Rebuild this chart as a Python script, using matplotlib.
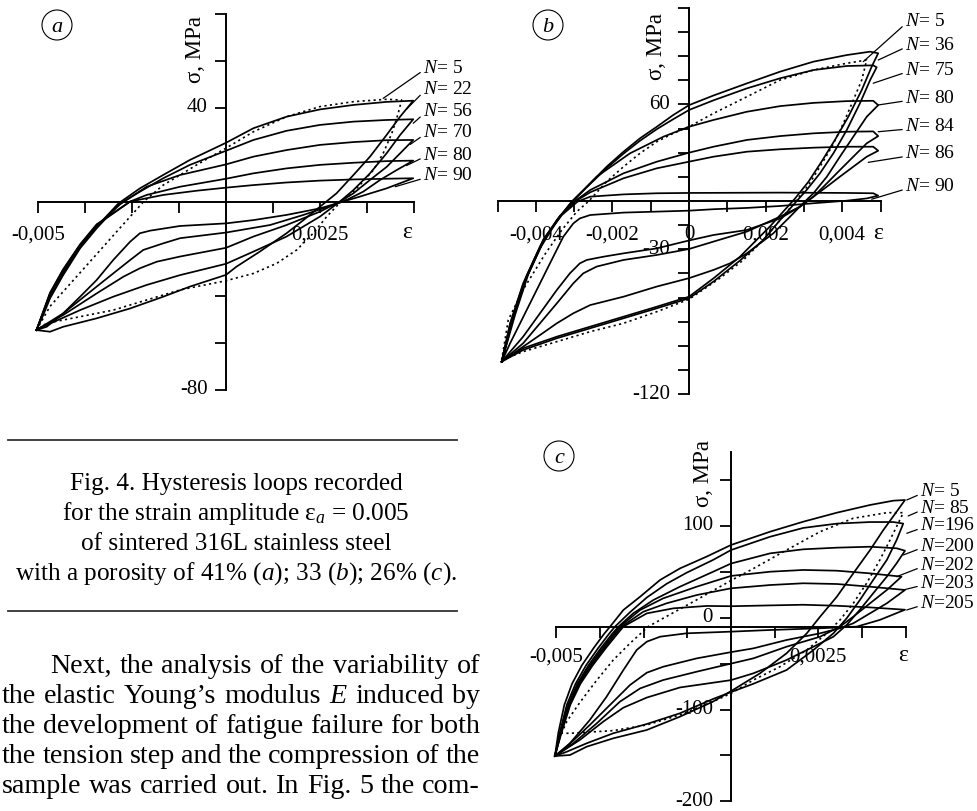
import numpy as np
import matplotlib
matplotlib.use("Agg")
import matplotlib.pyplot as plt
from matplotlib.patches import Ellipse
from matplotlib.lines import Line2D

plt.rcParams["font.family"] = ["Liberation Serif", "DejaVu Serif"]
plt.rcParams["mathtext.fontset"] = "custom"
plt.rcParams["mathtext.rm"] = "Liberation Serif"
plt.rcParams["mathtext.it"] = "Liberation Serif:italic"

# strain given in units of 1e-3, stress in MPa

# ---- (a) porosity 41 % ----
A_N = ["5", "22", "56", "70", "80", "90"]
A5_UP = [(-5.04, -54.5), (-4.68, -44.4), (-4.20, -35.8), (-3.44, -22.2), (-2.80, -10.7), (-2.20, 0.0),
         (-1.67, 7.2), (-1.22, 11.5), (-0.78, 15.8), (0.00, 22.9), (0.73, 29.9), (1.61, 36.3),
         (2.50, 40.6), (3.39, 42.7), (4.27, 43.7), (4.67, 43.4)]
A5_DN = [(4.67, 43.4), (4.58, 37.7), (4.41, 29.2), (4.18, 20.7), (3.92, 13.6), (3.56, 7.2), (3.30, 3.0),
         (3.03, -0.3), (2.68, -6.2), (2.32, -13.3), (1.88, -20.4), (1.35, -26.1), (0.73, -30.4),
         (0.00, -33.5), (-1.22, -37.4), (-2.11, -41.7), (-3.00, -46.0), (-3.88, -48.8), (-4.77, -51.6),
         (-5.04, -54.5)]
A22_UP = [(-5.04, -54.5), (-4.86, -47.4), (-4.68, -40.3), (-4.33, -30.4), (-3.88, -19.0), (-3.44, -10.5),
          (-2.86, -0.6), (-2.29, 5.8), (-1.67, 11.5), (-0.96, 17.9), (0.00, 25.2), (0.73, 31.4),
          (1.61, 36.3), (2.50, 39.4), (3.39, 41.3), (4.27, 42.6), (4.98, 43.1)]
A22_DN = [(4.98, 43.1), (4.63, 36.3), (4.27, 28.5), (3.83, 19.3), (3.39, 11.5), (2.94, 3.7), (2.50, -2.0),
          (2.06, -7.7), (1.61, -13.3), (0.90, -21.1), (0.28, -27.5), (0.00, -31.0), (-0.96, -36.0),
          (-1.67, -40.3), (-2.55, -45.3), (-3.44, -49.5), (-4.33, -53.1), (-4.68, -55.2), (-5.04, -54.5)]
A56_UP = [(-5.04, -54.5), (-4.86, -48.1), (-4.68, -41.0), (-4.33, -31.1), (-3.88, -19.7), (-3.44, -11.2),
          (-2.84, -0.9), (-2.29, 4.4), (-1.67, 10.1), (-0.96, 15.8), (0.00, 21.8), (0.73, 26.4),
          (1.61, 30.3), (2.50, 32.8), (3.39, 34.2), (4.27, 34.9), (4.98, 35.2)]
A56_DN = [(4.98, 35.2), (4.63, 28.5), (4.27, 20.7), (3.83, 12.2), (3.39, 5.1), (3.03, 0.2), (2.50, -6.2),
          (1.61, -14.7), (0.73, -21.1), (0.00, -26.3), (-1.22, -31.1), (-2.11, -35.3), (-3.00, -40.3),
          (-3.88, -46.0), (-4.77, -52.4), (-5.04, -54.5)]
A70_UP = [(-5.04, -54.5), (-4.68, -39.6), (-4.33, -29.6), (-3.88, -18.7), (-3.44, -10.2), (-2.81, -0.9),
          (-2.11, 6.5), (-1.22, 11.5), (0.00, 16.0), (0.73, 19.3), (1.61, 22.1), (2.50, 24.3),
          (3.39, 25.5), (4.27, 26.3), (4.98, 26.4)]
A70_DN = [(4.98, 26.4), (4.63, 20.7), (4.27, 14.9), (3.83, 9.4), (3.39, 3.7), (3.03, 0.2), (2.50, -4.1),
          (1.61, -9.8), (0.73, -14.7), (0.00, -19.5), (-1.22, -23.2), (-1.84, -25.4), (-2.29, -28.2),
          (-2.73, -31.8), (-3.44, -38.9), (-4.33, -48.1), (-5.04, -54.5)]
A80_UP = [(-5.04, -54.5), (-4.68, -38.9), (-4.33, -28.9), (-3.88, -18.3), (-3.44, -9.8), (-2.55, 0.2),
          (-2.11, 3.0), (-1.22, 6.5), (0.00, 9.9), (0.73, 12.2), (1.61, 14.3), (2.50, 15.8),
          (3.39, 16.7), (4.27, 17.4), (4.98, 17.6)]
A80_DN = [(4.98, 17.6), (4.54, 13.6), (4.10, 9.4), (3.65, 4.4), (3.21, 0.9), (2.85, -1.3), (2.06, -5.5),
          (1.17, -9.8), (0.00, -13.0), (-1.22, -15.4), (-1.67, -17.6), (-2.20, -20.4), (-2.55, -24.7),
          (-3.00, -30.4), (-3.44, -36.0), (-4.33, -47.4), (-5.04, -54.5)]
A90_UP = [(-5.04, -54.5), (-4.68, -38.6), (-4.33, -28.6), (-3.88, -18.0), (-3.44, -9.5), (-2.55, 0.2),
          (-1.67, 3.0), (-0.78, 4.8), (0.00, 6.1), (0.73, 7.2), (1.61, 8.3), (2.50, 9.1),
          (3.39, 9.6), (4.27, 9.9), (4.98, 10.1)]
A90_DN = [(4.98, 10.1), (4.27, 5.8), (3.56, 2.3), (3.12, 0.2), (2.50, -2.7), (1.61, -5.5), (0.73, -7.7),
          (0.00, -9.1), (-1.22, -10.2), (-2.02, -12.2), (-2.29, -13.3), (-2.55, -16.9), (-3.00, -24.7),
          (-3.44, -33.2), (-3.88, -40.3), (-4.33, -47.4), (-4.77, -53.1), (-5.04, -54.5)]
A_LABEL_Y = [57.0, 47.7, 38.3, 29.4, 20.0, 11.1]
A_LEAD_END = [(4.18, 44.1), (4.80, 39.5), (4.98, 33.5), (4.90, 24.5), (4.80, 15.5), (4.50, 6.5)]

# ---- (b) porosity 33 % ----
B_N = ["5", "36", "75", "80", "84", "86", "90"]
B5_UP = [(-4.89, -98.7), (-4.72, -73.9), (-4.33, -55.0), (-3.76, -33.0), (-3.32, -18.0), (-2.93, -6.6),
         (-2.63, -0.4), (-2.15, 12.0), (-1.71, 21.3), (-1.28, 29.6), (-0.84, 36.8), (-0.41, 42.0),
         (0.00, 46.1), (0.64, 54.4), (1.51, 64.7), (2.38, 75.1), (3.25, 81.3), (4.12, 85.5), (4.64, 87.5)]
B5_DN = [(4.64, 87.5), (4.51, 75.1), (4.29, 62.6), (4.03, 48.2), (3.73, 33.7), (3.42, 21.3), (3.12, 9.9),
         (2.81, 0.6), (2.38, -11.8), (1.94, -24.2), (1.42, -36.6), (0.81, -47.9), (0.29, -56.3),
         (0.00, -61.0), (-0.84, -68.7), (-1.71, -75.9), (-2.58, -81.1), (-3.45, -87.3), (-4.33, -93.5),
         (-4.89, -98.7)]
B36_UP = [(-4.89, -99.7), (-4.67, -75.9), (-4.33, -51.1), (-3.89, -28.3), (-3.45, -11.8), (-3.06, -0.4),
          (-2.58, 11.0), (-2.15, 21.3), (-1.71, 30.6), (-1.28, 38.9), (-0.84, 46.1), (-0.41, 53.4),
          (0.00, 59.5), (0.64, 65.5), (1.51, 73.0), (2.38, 80.3), (3.25, 86.5), (4.12, 90.6),
          (4.73, 92.7), (4.94, 91.7)]
B36_DN = [(4.94, 91.7), (4.77, 83.4), (4.51, 68.9), (4.16, 52.3), (3.81, 37.9), (3.46, 24.4), (3.12, 12.0),
          (2.77, 1.6), (2.46, -6.6), (2.11, -15.9), (1.33, -34.6), (0.64, -48.0), (0.00, -59.4),
          (-0.84, -65.6), (-1.71, -71.8), (-2.58, -78.0), (-3.45, -84.2), (-4.33, -91.4), (-4.89, -99.7)]
B75_UP = [(-4.89, -99.7), (-4.67, -76.3), (-4.33, -52.1), (-3.89, -29.4), (-3.45, -12.4), (-3.06, -0.4),
          (-2.58, 10.6), (-2.15, 20.4), (-1.71, 29.4), (-1.28, 37.4), (-0.84, 44.6), (-0.41, 50.8),
          (0.00, 56.5), (0.64, 62.5), (1.51, 69.9), (2.38, 76.2), (3.25, 81.3), (4.12, 83.8),
          (4.81, 84.2), (4.90, 83.0)]
B75_DN = [(4.90, 83.0), (4.73, 75.1), (4.46, 60.5), (4.12, 44.1), (3.77, 29.6), (3.42, 17.2), (3.07, 6.8),
          (2.72, -2.5), (2.38, -11.8), (1.94, -24.2), (1.33, -37.0), (0.64, -50.0), (0.00, -60.4),
          (-0.84, -66.6), (-1.71, -72.8), (-2.58, -79.0), (-3.45, -85.2), (-4.33, -92.5), (-4.89, -99.7)]
B80_UP = [(-4.89, -99.7), (-4.59, -71.8), (-4.24, -46.9), (-3.80, -24.2), (-3.37, -9.7), (-3.04, -0.4),
          (-2.41, 15.1), (-1.54, 29.6), (-0.67, 39.9), (0.00, 46.1), (0.64, 50.3), (1.51, 55.4),
          (2.38, 58.9), (3.25, 60.9), (4.12, 62.0), (4.81, 62.2), (4.94, 59.5)]
B80_DN = [(4.94, 59.5), (4.64, 52.3), (4.29, 39.9), (3.94, 27.5), (3.60, 15.1), (3.25, 4.8), (2.98, -1.4),
          (2.64, -9.7), (2.20, -20.1), (1.51, -32.5), (1.07, -38.7), (0.64, -42.8), (0.00, -47.9),
          (-0.84, -53.1), (-1.71, -59.4), (-2.58, -64.6), (-3.02, -69.7), (-3.45, -75.9), (-3.89, -83.2),
          (-4.33, -90.4), (-4.89, -99.7)]
B84_UP = [(-4.89, -99.7), (-4.59, -71.4), (-4.24, -46.5), (-3.80, -23.8), (-3.37, -9.3), (-3.00, -0.4),
          (-2.58, 6.8), (-1.71, 17.2), (-0.84, 24.4), (0.00, 30.0), (0.64, 33.7), (1.51, 37.9),
          (2.38, 40.3), (3.25, 42.0), (4.12, 43.0), (4.81, 43.2), (4.94, 40.3)]
B84_DN = [(4.94, 40.3), (4.64, 35.8), (4.29, 27.5), (3.94, 19.2), (3.60, 11.0), (3.25, 2.7), (2.90, -3.5),
          (2.38, -9.7), (1.51, -19.0), (0.64, -25.2), (0.00, -29.8), (-0.84, -33.5), (-1.71, -36.6),
          (-2.41, -40.7), (-2.76, -44.9), (-3.02, -51.1), (-3.45, -63.5), (-3.89, -75.9), (-4.33, -88.3),
          (-4.89, -99.7)]
B86_UP = [(-4.89, -99.7), (-4.57, -71.0), (-4.22, -46.1), (-3.78, -23.4), (-3.35, -8.9), (-2.98, -0.4),
          (-2.58, 5.4), (-1.71, 14.1), (-0.84, 20.3), (0.00, 24.4), (0.64, 27.5), (1.51, 30.6),
          (2.38, 32.1), (3.25, 33.1), (4.12, 33.7), (4.81, 33.7), (4.94, 31.2)]
B86_DN = [(4.94, 31.2), (4.64, 27.5), (4.29, 21.3), (3.94, 15.1), (3.60, 8.9), (3.25, 2.7), (2.90, -3.5),
          (2.38, -10.8), (1.51, -18.0), (0.64, -21.1), (0.00, -24.5), (-0.84, -29.4), (-1.71, -32.5),
          (-2.24, -34.6), (-2.67, -36.6), (-2.85, -38.7), (-3.11, -44.9), (-3.45, -55.2), (-3.89, -69.7),
          (-4.33, -84.2), (-4.89, -99.7)]
B90_UP = [(-4.89, -99.7), (-4.54, -70.6), (-4.20, -45.7), (-3.76, -23.0), (-3.32, -8.7), (-2.91, -0.4),
          (-2.58, 2.7), (-1.71, 4.1), (-0.84, 4.8), (0.00, 5.0), (2.38, 5.2), (4.12, 5.0), (4.81, 4.8),
          (4.94, 3.3)]
B90_DN = [(4.94, 3.3), (4.64, 1.6), (4.12, 0.2), (3.25, -1.4), (2.38, -3.1), (1.51, -4.3), (0.64, -5.1),
          (0.00, -6.0), (-1.71, -7.2), (-2.58, -8.7), (-2.85, -10.8), (-3.02, -13.9), (-3.28, -22.1),
          (-3.63, -38.7), (-4.15, -63.5), (-4.67, -88.3), (-4.89, -99.7)]
B_LABEL_Y = [111.3, 96.8, 81.3, 63.7, 46.1, 29.2, 8.9]
B_LEAD_END = [(4.55, 86.5), (4.94, 87.5), (4.81, 73.1), (4.94, 59.6), (4.94, 43.0), (4.68, 24.0), (4.77, 1.1)]

# ---- (c) porosity 26 % ----
C_N = ["5", "85", "196", "200", "202", "203", "205"]
C5_UP = [(-5.04, -150.7), (-4.94, -125.0), (-4.77, -95.0), (-4.55, -72.0), (-4.27, -52.0), (-3.93, -33.0),
         (-3.64, -18.0), (-3.46, -9.7), (-3.08, 8.4), (-2.60, 22.9), (-2.03, 41.1), (-1.46, 53.7),
         (-0.70, 66.5), (0.00, 79.2), (1.12, 93.7), (2.07, 104.6), (3.03, 114.4), (3.98, 122.8),
         (4.65, 127.5), (4.98, 128.2)]
C5_DN = [(4.98, 128.2), (4.74, 115.5), (4.36, 95.5), (3.98, 73.7), (3.50, 48.3), (3.03, 22.9), (2.55, 1.1),
         (2.17, -17.0), (1.59, -38.8), (0.83, -60.6), (0.00, -80.0), (-0.51, -91.3), (-1.46, -107.8),
         (-2.41, -122.3), (-3.37, -131.4), (-4.13, -140.5), (-4.61, -149.6), (-5.04, -150.7)]
C85_UP = [(-4.85, -125.9), (-4.70, -113.0), (-4.32, -92.0), (-3.84, -68.0), (-3.37, -46.1), (-2.89, -27.9),
          (-2.37, -9.7), (-1.65, 5.5), (-0.98, 19.5), (0.00, 40.5), (0.64, 53.5), (1.59, 73.7),
          (2.55, 93.7), (3.50, 108.3), (4.46, 114.4), (4.93, 114.4)]
C85_DN = [(4.93, 114.4), (4.79, 103.2), (4.55, 84.6), (4.26, 62.9), (3.88, 37.5), (3.50, 15.7), (3.12, -2.4),
          (2.74, -17.0), (2.17, -35.2), (1.40, -53.4), (0.64, -67.9), (0.00, -82.5), (-0.51, -91.3),
          (-1.46, -105.9), (-2.41, -116.8), (-3.37, -123.0), (-4.61, -125.9), (-4.85, -125.9)]
C196_UP = [(-5.04, -150.7), (-4.90, -125.0), (-4.70, -95.0), (-4.45, -72.0), (-4.15, -52.0), (-3.80, -33.0),
           (-3.50, -18.0), (-3.32, -9.7), (-2.89, 6.0), (-2.41, 22.0), (-1.84, 37.0), (-1.27, 49.0),
           (-0.51, 63.0), (0.00, 73.7), (1.12, 88.2), (2.07, 97.8), (3.03, 102.5), (3.98, 104.2),
           (4.65, 104.2), (4.93, 102.5)]
C196_DN = [(4.93, 102.5), (4.74, 84.6), (4.46, 62.9), (4.07, 41.1), (3.69, 19.3), (3.31, -0.7), (2.93, -17.0),
           (2.36, -35.2), (1.59, -57.0), (0.64, -72.0), (0.00, -81.0), (-0.51, -88.5), (-1.46, -104.1),
           (-2.41, -115.8), (-3.37, -125.9), (-4.13, -136.8), (-4.70, -146.0), (-5.04, -150.7)]
C200_UP = [(-5.04, -150.7), (-4.88, -125.0), (-4.66, -95.0), (-4.40, -72.0), (-4.08, -52.0), (-3.72, -33.0),
           (-3.41, -18.0), (-3.22, -9.7), (-2.80, 4.7), (-2.22, 19.3), (-1.46, 33.8), (-0.51, 50.1),
           (0.00, 59.0), (1.12, 70.1), (2.07, 74.5), (3.03, 76.3), (3.98, 77.3), (4.74, 75.6), (4.98, 73.0)]
C200_DN = [(4.98, 73.0), (4.74, 59.3), (4.46, 44.7), (4.07, 26.6), (3.69, 8.7), (3.31, -7.9), (2.93, -20.7),
           (2.36, -31.6), (1.59, -46.1), (0.64, -60.6), (0.00, -68.0), (-1.46, -76.0), (-2.41, -87.0),
           (-3.08, -98.0), (-3.65, -113.0), (-4.32, -133.0), (-5.04, -150.7)]
C202_UP = [(-5.04, -150.7), (-4.87, -125.0), (-4.64, -95.0), (-4.37, -72.0), (-4.04, -52.0), (-3.67, -33.0),
           (-3.36, -18.0), (-3.18, -9.7), (-2.60, 8.4), (-1.94, 21.1), (-0.98, 33.8), (0.00, 45.5),
           (1.12, 50.1), (2.07, 52.0), (3.03, 51.2), (3.98, 48.3), (4.88, 44.7)]
C202_DN = [(4.88, 44.7), (4.46, 30.2), (3.98, 15.7), (3.50, 1.1), (3.12, -9.7), (2.55, -20.7), (1.59, -31.6),
           (0.64, -44.3), (0.00, -50.0), (-0.98, -58.8), (-1.94, -67.9), (-2.60, -77.0), (-3.18, -91.5),
           (-3.84, -115.0), (-4.51, -136.8), (-5.04, -150.7)]
C203_UP = [(-5.04, -150.7), (-4.86, -125.0), (-4.62, -95.0), (-4.34, -72.0), (-4.00, -52.0), (-3.62, -33.0),
           (-3.31, -18.0), (-3.13, -9.7), (-2.51, 6.5), (-1.84, 15.7), (-0.98, 24.7), (0.00, 32.0),
           (1.12, 35.6), (2.07, 37.5), (3.03, 36.7), (3.98, 33.8), (4.98, 30.2)]
C203_DN = [(4.98, 30.2), (4.46, 15.7), (3.98, 4.8), (3.50, -6.1), (3.12, -11.5), (2.55, -17.0), (1.59, -24.3),
           (0.64, -33.4), (0.00, -37.5), (-0.98, -44.3), (-1.94, -53.4), (-2.41, -59.9), (-2.89, -73.3),
           (-3.37, -91.5), (-4.04, -116.8), (-4.70, -140.5), (-5.04, -150.7)]
C205_UP = [(-5.04, -150.7), (-4.85, -125.0), (-4.60, -95.0), (-4.31, -72.0), (-3.96, -52.0), (-3.58, -33.0),
           (-3.26, -18.0), (-3.08, -9.7), (-2.41, 4.7), (-1.65, 10.2), (-0.70, 12.8), (0.00, 12.5),
           (1.12, 13.4), (2.07, 14.1), (3.03, 13.0), (3.98, 11.2), (4.98, 8.7)]
C205_DN = [(4.98, 8.7), (4.26, -2.4), (3.60, -9.7), (2.55, -11.5), (1.12, -13.4), (0.00, -15.2),
           (-1.27, -17.0), (-2.03, -20.7), (-2.41, -26.1), (-2.70, -35.2), (-3.08, -57.0), (-3.56, -86.0),
           (-4.04, -111.4), (-4.61, -136.8), (-5.04, -150.7)]
C_LABEL_Y = [137.3, 119.2, 99.9, 78.1, 57.4, 37.5, 15.7]
C_LEAD_END = [(5.03, 128.2), (5.07, 110.8), (5.03, 91.9), (4.93, 68.3), (4.74, 44.7), (4.93, 30.2), (5.03, 8.4)]

CAPTION = [
    "Fig. 4. Hysteresis loops recorded",
    r"for the strain amplitude $\mathrm{ε}_{a}$ = 0.005",
    "of sintered 316L stainless steel",
    "with a porosity of 41% ($a$); 33 ($b$); 26% ($c$).",
]
BODY = [
    "Next, the analysis of the variability of",
    "the elastic Young’s modulus $E$ induced by",
    "the development of fatigue failure for both",
    "the tension step and the compression of the",
    "sample was carried out. In Fig. 5 the com-",
]

W, H = 977, 811
E = 1e-3
fig = plt.figure(figsize=(W / 100, H / 100), dpi=100)


def make_panel(x0, y0, sx, sy, box):
    # x0, y0: pixel of the origin, sx: px per 1e-3 strain, sy: px per MPa
    l, t, r, b = box
    ax = fig.add_axes([l / W, 1 - b / H, (r - l) / W, (b - t) / H])
    ax.patch.set_visible(False)
    lims = ((l - x0) / sx * E, (r - x0) / sx * E), ((y0 - b) / sy, (y0 - t) / sy)
    return ax, lims


def draw_axes(ax, lims, xb, yb, xt, yt, x_at=0.0):
    for s in ("top", "right"):
        ax.spines[s].set_visible(False)
    ax.spines["left"].set_position(("data", 0))
    ax.spines["bottom"].set_position(("data", x_at))
    ax.spines["left"].set_bounds(*yb)
    ax.spines["bottom"].set_bounds(xb[0] * E, xb[1] * E)
    for s in ("left", "bottom"):
        ax.spines[s].set_linewidth(1.4)
    ax.set_xticks(np.array(xt) * E)
    ax.set_yticks(yt)
    ax.tick_params(direction="out", length=8, width=1.3, labelbottom=False, labelleft=False)
    ax.set_xlim(*lims[0])
    ax.set_ylim(*lims[1])


def draw_loops(ax, loops, dotted):
    for name, up, dn in loops:
        pts = np.array(up + dn[1:])
        if name == dotted:
            ax.plot(pts[:, 0] * E, pts[:, 1], color="black", lw=1.2, ls=(0, (1.3, 2.0)))
        else:
            ax.plot(pts[:, 0] * E, pts[:, 1], color="black", lw=1.25, solid_joinstyle="round")


def draw_labels(ax, names, label_x, label_y, ends):
    for n, y, (ex, ey) in zip(names, label_y, ends):
        ax.annotate("$N$=" + (" " + n if len(n) < 3 else n), xy=(ex * E, ey), xytext=(label_x * E, y),
                    fontsize=14, va="center", ha="left", annotation_clip=False,
                    arrowprops=dict(arrowstyle="-", lw=0.9, color="black", shrinkA=0, shrinkB=0,
                                    relpos=(0.0, 0.35)))


def circle_tag(x, y, letter):
    fig.add_artist(Ellipse((x / W, 1 - y / H), 30 / W, 30 / H, transform=fig.transFigure,
                           fill=False, lw=0.8, color="black"))
    fig.text(x / W, 1 - y / H, letter, style="italic", fontsize=16, ha="center", va="center_baseline")


# ---- panel (a) ----
ax, lims = make_panel(226, 202, 37.6, 2.35, (0, 0, 470, 420))
draw_axes(ax, lims, (-5, 5), (-80, 80), [-5, -3.75, -2.5, -1.25, 1.25, 2.5, 3.75, 5],
          [-80, -60, -40, 40, 60, 80])
draw_loops(ax, list(zip(A_N, [A5_UP, A22_UP, A56_UP, A70_UP, A80_UP, A90_UP],
                        [A5_DN, A22_DN, A56_DN, A70_DN, A80_DN, A90_DN])), "5")
draw_labels(ax, A_N, 5.24, A_LABEL_Y, A_LEAD_END)
for x, s in zip([-5, 2.5], ["-0,005", "0,0025"]):
    ax.text(x * E, -14.0, s, fontsize=15, ha="center", va="center")
ax.text(4.81 * E, -13.0, "ε", fontsize=17, ha="center", va="center")
for y, s in zip([40, -80], ["40", "-80"]):
    ax.text(-0.48 * E, y, s, fontsize=15, ha="right", va="center")
ax.text(-0.80 * E, 65.0, "σ, MPa", fontsize=16.5, rotation=90, ha="center", va="center")
circle_tag(57, 25, "a")

# ---- panel (b) ----
ax, lims = make_panel(689, 201, 38.3, 1.611, (480, 0, 977, 420))
draw_axes(ax, lims, (-5, 5), (-120, 120), [-5, -4, -3, -2, -1, 1, 2, 3, 4, 5],
          [v for v in range(-120, 121, 15) if v != 0])
draw_loops(ax, list(zip(B_N, [B5_UP, B36_UP, B75_UP, B80_UP, B84_UP, B86_UP, B90_UP],
                        [B5_DN, B36_DN, B75_DN, B80_DN, B84_DN, B86_DN, B90_DN])), "5")
draw_labels(ax, B_N, 5.64, B_LABEL_Y, B_LEAD_END)
for x, s in zip([-4, -2, 0, 2, 4], ["-0,004", "-0,002", "0", "0,002", "0,004"]):
    ax.text(x * E, -21.1, s, fontsize=15, ha="center", va="center")
ax.text(4.93 * E, -20.0, "ε", fontsize=17, ha="center", va="center")
for y, s in zip([60, -30, -120], ["60", "-30", "-120"]):
    ax.text(-0.50 * E, y, s, fontsize=15, ha="right", va="center")
ax.text(-0.84 * E, 96.0, "σ, MPa", fontsize=16.5, rotation=90, ha="center", va="center")
circle_tag(548, 25, "b")

# ---- panel (c) ----
ax, lims = make_panel(731, 617.7, 34.94, 0.918, (480, 420, 977, 811))
draw_axes(ax, lims, (-5, 5), (-200, 181), [-5, -3.75, -2.5, -1.25, 1.25, 2.5, 3.75, 5],
          [-200, -150, -100, -50, 0, 50, 100, 150], x_at=-9.8)
draw_loops(ax, list(zip(C_N, [C5_UP, C85_UP, C196_UP, C200_UP, C202_UP, C203_UP, C205_UP],
                        [C5_DN, C85_DN, C196_DN, C200_DN, C202_DN, C203_DN, C205_DN])), "85")
draw_labels(ax, C_N, 5.41, C_LABEL_Y, C_LEAD_END)
for x, s in zip([-5, 2.5], ["-0,005", "0,0025"]):
    ax.text(x * E, -42.8, s, fontsize=15, ha="center", va="center")
ax.text(4.92 * E, -41.0, "ε", fontsize=17, ha="center", va="center")
for y, s in zip([100, 0, -100, -200], ["100", "0", "-100", "-200"]):
    ax.text(-0.52 * E, y, s, fontsize=15, ha="right", va="center")
ax.text(-0.80 * E, 157.0, "σ, MPa", fontsize=16.5, rotation=90, ha="center", va="center")
circle_tag(559, 456, "c")

# ---- caption block ----
for yy in (440, 611):
    fig.add_artist(Line2D([8 / W, 457 / W], [1 - yy / H] * 2, transform=fig.transFigure,
                          color="#333333", lw=1.3))
for i, line in enumerate(CAPTION):
    fig.text(236 / W, 1 - (490 + 30 * i) / H, line, fontsize=18.2, ha="center", va="baseline")

# ---- body text, justified between x_left and 480 px ----
renderer = fig.canvas.get_renderer()
for i, line in enumerate(BODY):
    x_left = 50 if i == 0 else 2
    yb = 1 - (673 + 30 * i) / H
    words = line.split(" ")
    arts = [fig.text(0, yb, w, fontsize=20.2, ha="left", va="baseline") for w in words]
    widths = [a.get_window_extent(renderer).width for a in arts]
    gap = (480 - x_left - sum(widths)) / (len(words) - 1)
    x = x_left
    for a, w in zip(arts, widths):
        a.set_x(x / W)
        x += w + gap

fig.savefig("out.png", dpi=100)
